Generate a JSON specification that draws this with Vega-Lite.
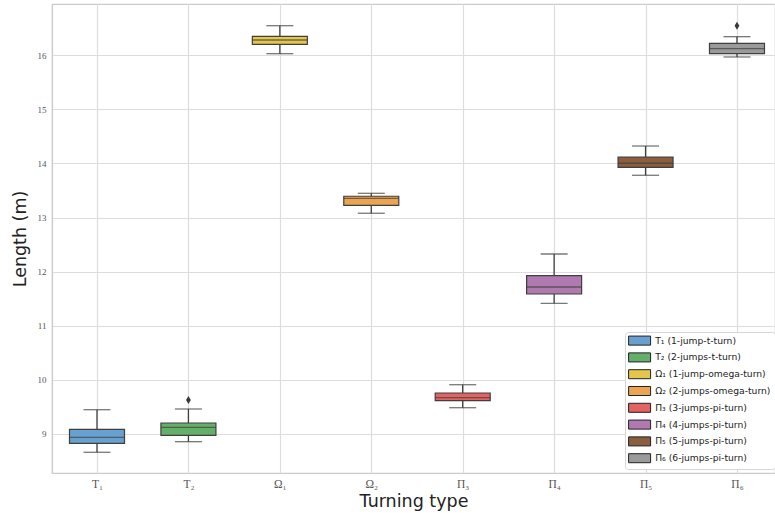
{
  "$schema": "https://vega.github.io/schema/vega-lite/v6.json",
  "width": 723,
  "height": 469,
  "autosize": {"type": "none"},
  "padding": {"left": 52, "top": 4, "right": 0, "bottom": 47},
  "background": "white",
  "datasets": {
    "boxes": [
      {"type": "T₁", "label": "T₁ (1-jump-t-turn)", "lower": 8.662, "q1": 8.828, "median": 8.939, "q3": 9.087, "upper": 9.449},
      {"type": "T₂", "label": "T₂ (2-jumps-t-turn)", "lower": 8.858, "q1": 8.976, "median": 9.124, "q3": 9.203, "upper": 9.462},
      {"type": "Ω₁", "label": "Ω₁ (1-jump-omega-turn)", "lower": 16.03, "q1": 16.203, "median": 16.283, "q3": 16.351, "upper": 16.547},
      {"type": "Ω₂", "label": "Ω₂ (2-jumps-omega-turn)", "lower": 13.08, "q1": 13.227, "median": 13.357, "q3": 13.394, "upper": 13.449},
      {"type": "Π₃", "label": "Π₃ (3-jumps-pi-turn)", "lower": 9.486, "q1": 9.616, "median": 9.671, "q3": 9.758, "upper": 9.911},
      {"type": "Π₄", "label": "Π₄ (4-jumps-pi-turn)", "lower": 11.416, "q1": 11.588, "median": 11.717, "q3": 11.926, "upper": 12.327},
      {"type": "Π₅", "label": "Π₅ (5-jumps-pi-turn)", "lower": 13.782, "q1": 13.93, "median": 14.004, "q3": 14.12, "upper": 14.323},
      {"type": "Π₆", "label": "Π₆ (6-jumps-pi-turn)", "lower": 15.969, "q1": 16.03, "median": 16.122, "q3": 16.222, "upper": 16.344}
    ],
    "outliers": [
      {"type": "T₂", "value": 9.628},
      {"type": "Π₆", "value": 16.547}
    ]
  },
  "data": {"name": "boxes"},
  "encoding": {
    "x": {
      "field": "type",
      "type": "nominal",
      "sort": ["T₁", "T₂", "Ω₁", "Ω₂", "Π₃", "Π₄", "Π₅", "Π₆"],
      "scale": {"type": "point", "padding": 0.454, "align": 0.542},
      "axis": {"title": "Turning type", "labelAngle": 0, "labelPadding": 5, "labelFontSize": 11.5, "titlePadding": 3}
    }
  },
  "layer": [
    {
      "mark": {"type": "rule", "color": "#3f3f3f", "strokeWidth": 1.3},
      "encoding": {
        "y": {
          "field": "lower",
          "type": "quantitative",
          "title": "Length (m)",
          "scale": {"domain": [8.279, 16.948], "nice": false, "zero": false},
          "axis": {"values": [9, 10, 11, 12, 13, 14, 15, 16], "labelPadding": 6, "titlePadding": 8}
        },
        "y2": {"field": "upper"}
      }
    },
    {
      "mark": {"type": "tick", "color": "#3f3f3f", "size": 27, "thickness": 1.3},
      "encoding": {"y": {"field": "lower", "type": "quantitative", "title": "Length (m)"}}
    },
    {
      "mark": {"type": "tick", "color": "#3f3f3f", "size": 27, "thickness": 1.3},
      "encoding": {"y": {"field": "upper", "type": "quantitative", "title": "Length (m)"}}
    },
    {
      "mark": {"type": "bar", "width": 55, "stroke": "#3f3f3f", "strokeWidth": 1.2},
      "encoding": {
        "y": {"field": "q1", "type": "quantitative", "title": "Length (m)"},
        "y2": {"field": "q3"},
        "fill": {
          "field": "label",
          "type": "nominal",
          "scale": {
            "domain": ["T₁ (1-jump-t-turn)", "T₂ (2-jumps-t-turn)", "Ω₁ (1-jump-omega-turn)", "Ω₂ (2-jumps-omega-turn)", "Π₃ (3-jumps-pi-turn)", "Π₄ (4-jumps-pi-turn)", "Π₅ (5-jumps-pi-turn)", "Π₆ (6-jumps-pi-turn)"],
            "range": ["#68a0d0", "#64b06a", "#e4c64c", "#eba452", "#e36262", "#b07ab0", "#8c5e40", "#9a9a9a"]
          },
          "legend": {"title": null, "orient": "none", "legendX": 573, "legendY": 328}
        }
      }
    },
    {
      "mark": {"type": "tick", "color": "#3f3f3f", "size": 55, "thickness": 1.3},
      "encoding": {"y": {"field": "median", "type": "quantitative", "title": "Length (m)"}}
    },
    {
      "data": {"name": "outliers"},
      "mark": {"type": "point", "shape": "M0,-1L0.6,0L0,1L-0.6,0Z", "filled": true, "size": 64, "color": "#3a3a3a", "opacity": 1},
      "encoding": {"y": {"field": "value", "type": "quantitative", "title": "Length (m)"}}
    }
  ],
  "config": {
    "view": {"stroke": "#cccccc", "strokeWidth": 1.2},
    "axis": {
      "grid": true,
      "gridColor": "#dddddd",
      "gridWidth": 1.2,
      "domainColor": "#cccccc",
      "domainWidth": 1.2,
      "ticks": false,
      "labelFont": "Liberation Serif",
      "labelFontSize": 9,
      "labelColor": "#555555",
      "titleFont": "DejaVu Sans",
      "titleFontSize": 17.5,
      "titleFontWeight": "normal",
      "titleColor": "#222222"
    },
    "legend": {
      "fillColor": "white",
      "strokeColor": "#d5d5d5",
      "cornerRadius": 3,
      "padding": 4,
      "labelFont": "DejaVu Sans",
      "labelFontSize": 9.2,
      "labelColor": "#222222",
      "labelOffset": 11,
      "symbolType": "M-4,-1.64H4V1.64H-4Z",
      "symbolSize": 30.25,
      "symbolOffset": 6,
      "symbolStrokeColor": "#222222",
      "symbolStrokeWidth": 1,
      "symbolOpacity": 1,
      "rowPadding": 2.8
    }
  }
}
